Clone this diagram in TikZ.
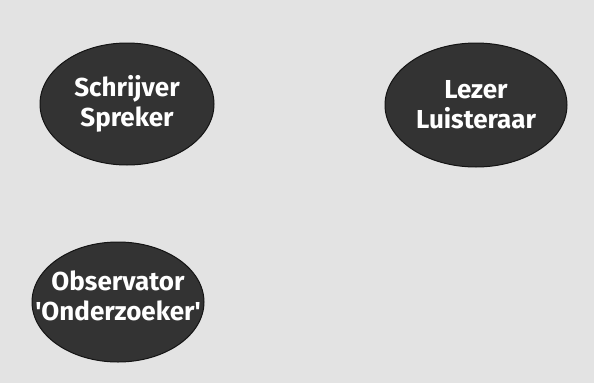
\documentclass[tikz,border=0pt]{standalone}
\usepackage{fontspec}
\setmainfont{Fira Sans}
\usetikzlibrary{shapes.geometric}
\tikzset{
  blob/.style={ellipse, fill=black!80, draw=black!92, line width=1pt, inner sep=0pt},
  blobtext/.style={text=white, align=center, inner sep=0pt,
    font=\fontsize{26}{30}\selectfont\bfseries}
}
\begin{document}
\begin{tikzpicture}[x=1pt,y=-1pt]
\fill[black!11] (0,0) rectangle (594,383);
\useasboundingbox (0,0) rectangle (594,383);
\node[blob, minimum width=174pt, minimum height=122pt] (a) at (127,104) {};
\node[blob, minimum width=182pt, minimum height=124pt] (b) at (476,105) {};
\node[blob, minimum width=172pt, minimum height=120pt] (c) at (118,302) {};
\node[blobtext] (at) at (a.center) {Schrijver\\Spreker};
\node[blobtext] (bt) at (b.center) {Lezer\\Luisteraar};
\node[blobtext] (ct) at ([yshift=6pt]c.center) {Observator\\\textquotesingle Onderzoeker\textquotesingle};
\end{tikzpicture}
\end{document}
